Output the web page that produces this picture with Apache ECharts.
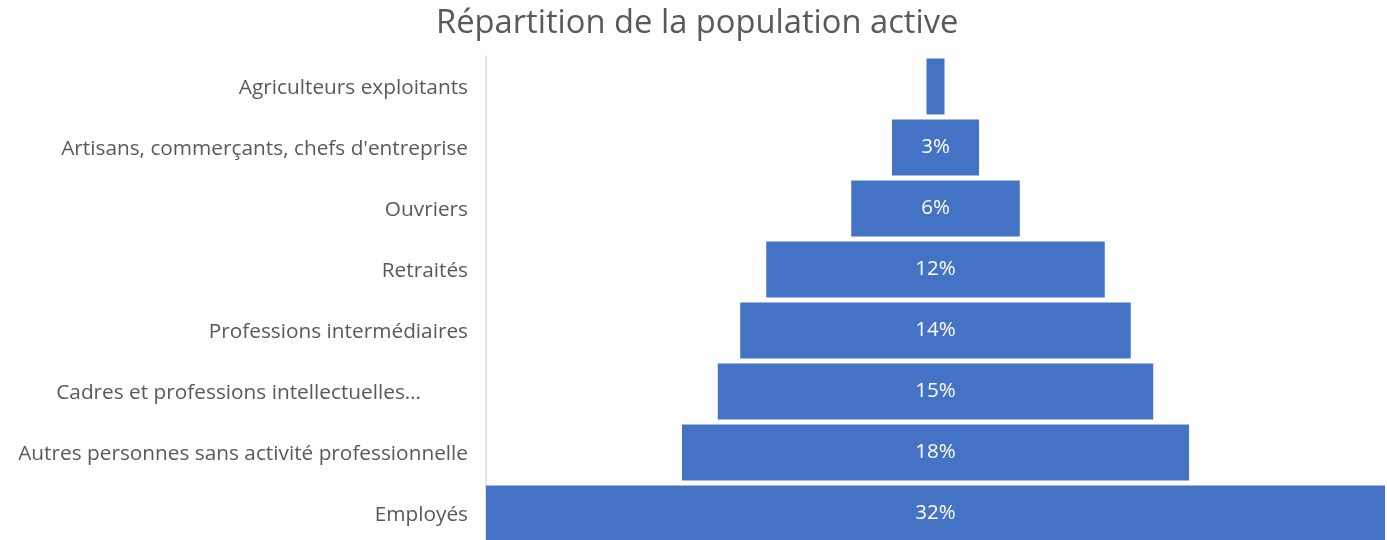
<!DOCTYPE html>
<html>
<head>
<meta charset="utf-8">
<script src="https://cdn.jsdelivr.net/npm/echarts@6/dist/echarts.min.js"></script>
<style>
  html, body { margin: 0; padding: 0; background: #fff; }
  #chart { width: 1387px; height: 540px; }
</style>
</head>
<body>
<div id="chart"></div>
<script>
// categories from top to bottom
const categories = [
  'Agriculteurs exploitants',
  'Artisans, commerçants, chefs d\'entreprise',
  'Ouvriers',
  'Retraités',
  'Professions intermédiaires',
  'Cadres et professions intellectuelles…',
  'Autres personnes sans activité professionnelle',
  'Employés'
]
// share in percent
const shares = [0.64, 3.1, 6.0, 12.05, 13.9, 15.5, 18.05, 32]
// labels shown in the bars (none on the first one)
const barLabels = ['', '3%', '6%', '12%', '14%', '15%', '18%', '32%']

const maxShare = Math.max(...shares)
// invisible offset that centres each bar
const offsets = shares.map(v => (maxShare - v) / 2)

const myChart = echarts.init(document.getElementById('chart'))
const option = {
  animation: false,
  title: {
    text: 'Répartition de la population active',
    left: 431,
    top: 2,
    textStyle: {
      fontFamily: 'Open Sans',
      fontSize: 32.7,
      fontWeight: 'normal',
      color: '#595959'
    }
  },
  grid: {
    left: 486,
    right: 2,
    top: 56,
    height: 488,
    outerBoundsMode: 'none'
  },
  xAxis: {
    type: 'value',
    min: 0,
    max: maxShare,
    show: false
  },
  yAxis: {
    type: 'category',
    inverse: true,
    data: categories,
    axisLine: { show: true, lineStyle: { color: '#d9d9d9', width: 1.5 } },
    axisTick: { show: false },
    axisLabel: {
      margin: 18,
      color: '#595959',
      fontFamily: 'Open Sans',
      fontSize: 20.8,
      padding: [4, 0, 0, 0],
      formatter: function (v) {
        return v.endsWith('…') ? '{pad|' + v + '}' : v
      },
      rich: {
        pad: {
          color: '#595959',
          fontFamily: 'Open Sans',
          fontSize: 20.8,
          padding: [0, 47, 0, 0]
        }
      }
    }
  },
  series: [
    {
      type: 'bar',
      stack: 'funnel',
      data: offsets,
      itemStyle: { color: 'transparent' },
      silent: true,
      barCategoryGap: '8%'
    },
    {
      type: 'bar',
      stack: 'funnel',
      data: shares,
      barCategoryGap: '8%',
      itemStyle: { color: '#4472C4' },
      label: {
        show: true,
        position: 'inside',
        color: '#ffffff',
        fontFamily: 'Open Sans',
        fontSize: 20.5,
        padding: [4, 0, 0, 0],
        formatter: p => barLabels[p.dataIndex]
      }
    }
  ]
}
myChart.setOption(option)
</script>
</body>
</html>
